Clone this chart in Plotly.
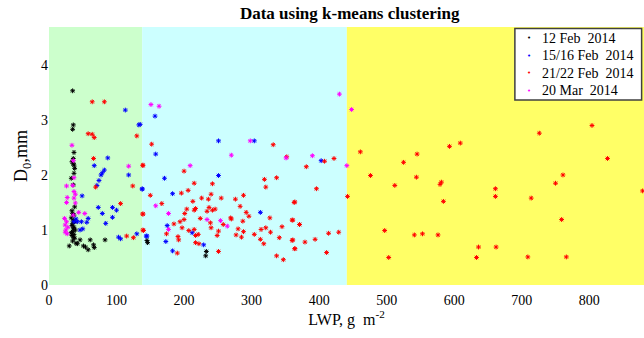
import plotly.graph_objects as go

# LWP (g m^-2) and D0 (mm) for each observation period
feb12_lwp = [35, 36, 35, 37, 36, 34, 37, 36, 38, 37, 33, 36, 38, 34, 35, 37, 33, 36, 38, 35, 34, 37, 36, 39,
             35, 33, 37, 34, 36, 38, 35, 46, 42, 51, 54, 58, 61, 66, 67, 83, 30, 40, 145, 146, 233, 232]
feb12_d0 = [3.53, 2.91, 2.83, 2.41, 2.30, 2.24, 2.18, 2.20, 2.12, 2.03, 1.94, 1.82, 1.42, 1.35, 1.30, 1.27,
            1.22, 1.18, 1.15, 1.12, 1.08, 1.05, 1.02, 1.00, 0.97, 0.95, 0.92, 0.90, 0.87, 0.85, 0.80, 0.82,
            0.75, 0.71, 0.69, 0.64, 0.82, 0.73, 0.68, 0.82, 0.71, 0.76, 0.81, 0.77, 0.61, 0.53]

feb15_lwp = [113, 133, 87, 67, 82, 79, 77, 118, 74, 71, 138, 49, 73, 94, 100, 79, 58, 48, 42, 84, 94, 56,
             50, 46, 103, 106, 130, 145, 157, 135, 251, 304, 158, 251, 171, 138, 183, 313, 175, 212, 144,
             173, 229, 183, 403, 37, 40]
feb15_d0 = [3.18, 2.91, 2.31, 2.17, 2.09, 2.04, 2.00, 2.00, 1.90, 1.81, 1.74, 1.62, 1.41, 1.41, 1.36, 1.30,
            1.21, 1.15, 1.15, 1.12, 1.23, 1.14, 1.02, 1.00, 0.87, 0.84, 0.93, 0.89, 3.07, 2.92, 2.62, 2.62,
            2.38, 1.99, 1.94, 1.75, 1.66, 1.32, 1.08, 0.95, 0.89, 0.79, 0.73, 0.62, 2.26, 1.15, 1.20]

feb21_lwp = [64, 82, 58, 64, 67, 130, 66, 139, 69, 124, 106, 139, 139, 115, 125,
             152, 332, 352, 139, 200, 319, 337, 321, 215, 242, 206, 196, 240, 288, 150, 226, 236, 255,
             276, 213, 364, 167, 237, 283, 204, 217, 215, 246, 242, 234, 201, 139, 292, 296, 224, 200,
             269, 270, 327, 185, 194, 239, 258, 287, 360, 371, 197, 207, 215, 240, 280, 314, 321, 328,
             345, 140, 174, 191, 192, 217, 221, 251, 288, 249, 277, 285, 304, 341, 313, 360, 217, 222,
             318, 364, 190, 251, 337, 347,
             408, 422, 381, 396, 363, 442, 361, 371, 414, 429, 394, 379, 361, 364, 411,
             461, 545, 525, 593, 476, 544, 512, 581, 579, 584, 497, 541, 553, 576, 503,
             804, 726, 609, 827, 761, 750, 661, 661, 714, 879, 759, 636, 662, 633, 709, 766]
feb21_d0 = [3.33, 3.33, 2.75, 2.74, 2.68, 2.71, 2.30, 2.17, 1.78, 1.80, 1.48, 1.29, 1.00, 0.89, 0.86,
            2.56, 2.55, 2.33, 2.18, 2.07, 1.92, 1.95, 1.78, 1.85, 1.84, 1.72, 1.67, 1.65, 1.63, 1.63, 1.58,
            1.56, 1.58, 1.56, 1.52, 1.51, 1.48, 1.41, 1.43, 1.38, 1.39, 1.36, 1.38, 1.36, 1.34, 1.30, 1.29,
            1.32, 1.25, 1.21, 1.19, 1.22, 1.20, 1.22, 1.11, 1.15, 1.13, 1.10, 1.16, 1.18, 1.10, 1.04, 0.99,
            1.01, 1.04, 1.02, 1.01, 1.04, 0.96, 1.06, 0.99, 0.93, 0.88, 0.82, 0.90, 0.92, 0.98, 0.97, 0.90,
            0.91, 0.87, 0.92, 0.86, 0.83, 0.81, 0.77, 0.75, 0.75, 0.66, 0.58, 0.61, 0.53, 0.46,
            2.25, 2.30, 2.15, 1.75, 1.50, 1.61, 1.18, 1.10, 0.94, 0.96, 0.83, 0.78, 0.82, 0.66, 0.59,
            2.42, 2.38, 2.23, 2.52, 1.99, 1.96, 1.81, 1.87, 1.83, 1.52, 0.99, 0.91, 0.93, 0.91, 0.50,
            2.90, 2.76, 2.58, 2.30, 2.00, 1.85, 1.75, 1.61, 1.58, 1.71, 1.19, 0.69, 0.69, 0.50, 0.51, 0.51]

mar20_lwp = [34, 36, 118, 37, 26, 35, 37, 39, 27, 37, 26, 39, 44, 53, 23, 26, 24, 25, 27, 36, 24, 28,
             151, 163, 298, 270, 351, 209, 158, 177, 177, 234, 254, 264, 430, 448, 390, 441]
mar20_d0 = [2.54, 2.26, 2.16, 1.95, 1.80, 1.81, 1.70, 1.65, 1.59, 1.58, 1.50, 1.49, 1.32, 1.30, 1.21,
            1.15, 1.09, 1.00, 0.93, 1.27, 0.96, 1.05,
            3.28, 3.25, 2.62, 2.36, 2.31, 2.17, 1.44, 1.30, 1.01, 1.19, 1.17, 1.07, 3.47, 3.19, 2.35, 2.17]

series_names = ["12 Feb  2014", "15/16 Feb  2014", "21/22 Feb  2014", "20 Mar  2014"]
series_colors = ["#000000", "#0000ff", "#ff0000", "#ff00ff"]

# cluster regions along LWP and their shading
band_edges = [0, 138, 441, 900]
band_colors = ["#ccffcc", "#ccffff", "#ffff66"]

x_ticks = [0, 100, 200, 300, 400, 500, 600, 700, 800]
y_ticks = [0, 1, 2, 3, 4]

serif = "Liberation Serif, Times New Roman, serif"

fig = go.Figure()

for name, color, xs, ys in zip(series_names, series_colors,
                               [feb12_lwp, feb15_lwp, feb21_lwp, mar20_lwp],
                               [feb12_d0, feb15_d0, feb21_d0, mar20_d0]):
    fig.add_trace(go.Scatter(
        x=xs, y=ys, mode="markers", name=name, showlegend=False,
        marker=dict(symbol="asterisk", size=4, color=color,
                    line=dict(color=color, width=1.0)),
    ))

shapes = []
for x0, x1, c in zip(band_edges[:-1], band_edges[1:], band_colors):
    shapes.append(dict(type="rect", xref="x", yref="paper", x0=x0, x1=x1, y0=0, y1=1,
                       fillcolor=c, line=dict(width=0), layer="below"))

# legend box with compact rows
leg_x0, leg_x1, leg_y0, leg_y1 = 0.783, 0.996, 0.717, 0.994
shapes.append(dict(type="rect", xref="paper", yref="paper", x0=leg_x0, x1=leg_x1,
                   y0=leg_y0, y1=leg_y1, fillcolor="white",
                   line=dict(color="#404040", width=1.5), layer="above"))

annotations = []
row_y = [0.956, 0.888, 0.820, 0.752]
for name, color, ry in zip(series_names, series_colors, row_y):
    annotations.append(dict(xref="paper", yref="paper", x=0.807, y=ry, text="•",
                            showarrow=False, xanchor="center", yanchor="middle",
                            font=dict(family="DejaVu Sans", size=7, color=color)))
    annotations.append(dict(xref="paper", yref="paper", x=0.826, y=ry, text=name,
                            showarrow=False, xanchor="left", yanchor="middle",
                            font=dict(family=serif, size=14, color="black")))

fig.update_layout(
    width=644, height=338,
    margin=dict(l=49, r=0, t=27, b=53),
    paper_bgcolor="white", plot_bgcolor="white",
    shapes=shapes, annotations=annotations,
    title=dict(text="<b>Data using k-means clustering</b>", x=0.543, xanchor="center",
               y=0.962, yanchor="middle", font=dict(family=serif, size=17, color="black")),
    font=dict(family=serif, size=14, color="black"),
    showlegend=False,
    xaxis=dict(range=[0, 881], tickvals=x_ticks, showgrid=False, zeroline=False,
               showline=False, ticks="", tickfont=dict(family=serif, size=14),
               ticklabelstandoff=5,
               title=dict(text="LWP,&nbsp;g&nbsp;&nbsp;m<sup>-2</sup>",
                          font=dict(family=serif, size=16), standoff=2)),
    yaxis=dict(range=[0, 4.69], tickvals=y_ticks, showgrid=False, zeroline=False,
               showline=False, ticks="", tickfont=dict(family=serif, size=14),
               title=dict(text="D<sub>0</sub>,mm", font=dict(family=serif, size=18), standoff=8)),
)

fig.write_html("out.html")
